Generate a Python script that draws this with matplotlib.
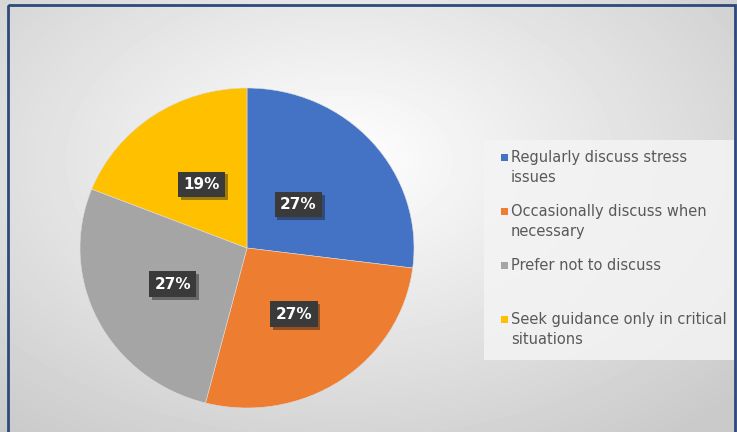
import numpy as np
import matplotlib.pyplot as plt
import matplotlib.patheffects as pe
from matplotlib.patches import Rectangle

# response shares (%)
categories = ["Regularly discuss stress\nissues",
              "Occasionally discuss when\nnecessary",
              "Prefer not to discuss",
              "Seek guidance only in critical\nsituations"]
shares = [27, 27, 27, 19]
colors = ["#4472C4", "#ED7D31", "#A5A5A5", "#FFC000"]
label_dist = [0.41, 0.50, 0.50, 0.48]

W, H = 737, 432
fig = plt.figure(figsize=(W / 100, H / 100), dpi=100)

# soft radial background
bg = fig.add_axes([0, 0, 1, 1], zorder=-5)
yy, xx = np.mgrid[0:H, 0:W]
d = np.sqrt(((xx - 340) / 520) ** 2 + ((yy - 160) / 330) ** 2)
shade = np.clip(1.0 - 0.20 * d, 0.79, 1.0)
bg.imshow(shade, cmap="gray", vmin=0, vmax=1, extent=[0, W, H, 0], aspect="auto")
bg.set_xlim(0, W)
bg.set_ylim(H, 0)
bg.axis("off")
bg.add_patch(Rectangle((8, 5), W - 10, H + 10, fill=False, ec="#2E4A7A", lw=2))

# legend panel
bg.add_patch(Rectangle((484, 140), 250, 220, fc="#F4F4F4", ec="none", alpha=0.85))

# pie
cx, cy, rx, ry = 247, 248, 167, 160
ax = fig.add_axes([(cx - rx) / W, (H - cy - ry) / H, 2 * rx / W, 2 * ry / H])
wedges, texts, autotexts = ax.pie(
    shares, colors=colors, startangle=90, counterclock=False,
    autopct=lambda p: f"{p:.0f}%",
    wedgeprops=dict(linewidth=0.4, edgecolor="#dddddd"),
    textprops=dict(color="white", fontsize=11, fontweight="bold",
                   family="DejaVu Sans"))
ax.set_aspect("auto")
ax.set_xlim(-1, 1)
ax.set_ylim(-1, 1)
ax.axis("off")
for w, t, r in zip(wedges, autotexts, label_dist):
    mid = np.deg2rad((w.theta1 + w.theta2) / 2)
    t.set_position((r * np.cos(mid), r * np.sin(mid)))
    t.set_bbox(dict(boxstyle="square,pad=0.35", fc="#3A3A3A", ec="none"))
    t.get_bbox_patch().set_path_effects(
        [pe.SimplePatchShadow(offset=(2, -2), alpha=0.4), pe.Normal()])

# legend entries
top = 150
for i, (lab, col) in enumerate(zip(categories, colors)):
    y = top + i * 54
    bg.add_patch(Rectangle((501, y + 4), 7, 7, fc=col, ec="none"))
    bg.text(511, y, lab, va="top", ha="left", fontsize=10.5,
            color="#595959", family="Liberation Sans Narrow", linespacing=1.45)

fig.savefig("out.png", dpi=100)
